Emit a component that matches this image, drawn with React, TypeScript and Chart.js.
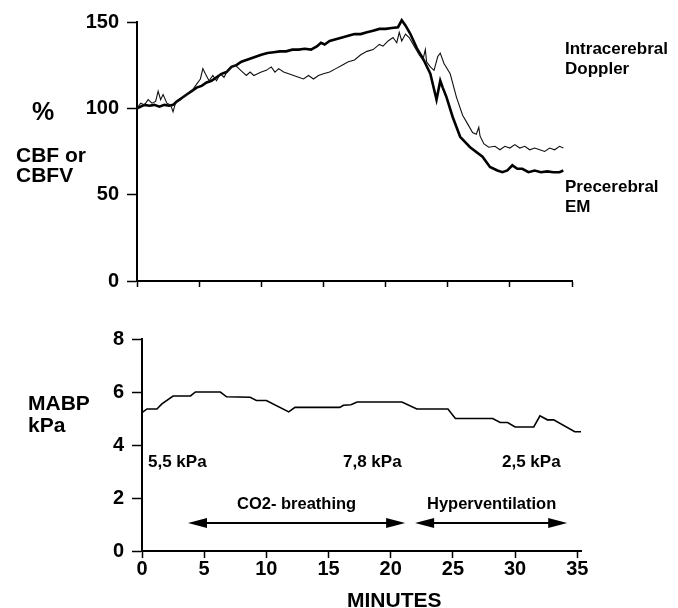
import React, { useEffect, useRef } from "react";
import { Chart, registerables } from "chart.js";

Chart.register(...registerables);

const FONT = "'Liberation Sans', Arial, Helvetica, sans-serif";

// ---- Data ----
// Precerebral EM (thick trace), % of baseline CBF
const emTime = [0, 0.3, 0.6, 1.0, 1.4, 1.8, 2.2, 2.6, 2.9, 3.2, 3.6, 4.0, 4.4, 4.8, 5.2, 5.6, 6.0, 6.4, 6.8, 7.2, 7.6, 8.0, 8.4, 8.8, 9.2, 9.6, 10.0, 10.5, 11.0, 11.5, 12.0, 12.5, 13.0, 13.5, 14.0, 14.5, 14.8, 15.1, 15.5, 16.0, 16.5, 17.0, 17.5, 18.0, 18.5, 19.0, 19.5, 20.0, 20.5, 21.0, 21.3, 21.6, 22.0, 22.5, 23.0, 23.6, 24.1, 24.4, 24.6, 24.9, 25.4, 26.0, 26.8, 27.8, 28.4, 29.0, 29.4, 29.8, 30.2, 30.6, 31.0, 31.5, 32.0, 32.5, 33.0, 33.5, 34.0, 34.3];
const emValue = [100, 101, 102, 101.5, 102, 101, 102, 101.5, 102, 104, 106, 108, 110, 112, 113, 115, 116, 118, 120, 121, 124, 125, 127, 128, 129, 130, 131, 132, 132.5, 133, 133, 134, 134, 134.5, 134, 136, 138, 137, 139, 140, 141, 142, 143, 143, 144, 145, 146, 146, 146.5, 147, 151, 148, 143, 135, 129, 120, 105, 116, 112, 106.5, 95, 83.5, 77.5, 72, 66, 64, 63, 64, 67, 65, 65, 63, 64, 63, 63.5, 63, 63, 64];

// Intracerebral Doppler (thin trace), % of baseline CBFV
const dopTime = [0, 0.3, 0.6, 0.9, 1.2, 1.5, 1.7, 1.9, 2.1, 2.4, 2.7, 2.9, 3.1, 3.5, 4.0, 4.5, 4.8, 5.1, 5.3, 5.5, 5.8, 6.1, 6.4, 6.7, 7.0, 7.3, 7.6, 7.9, 8.2, 8.5, 8.8, 9.1, 9.4, 9.7, 10.0, 10.4, 10.8, 11.1, 11.4, 11.8, 12.2, 12.6, 13.0, 13.4, 13.8, 14.2, 14.6, 15.0, 15.5, 16.0, 16.5, 17.0, 17.5, 18.0, 18.5, 19.0, 19.5, 19.8, 20.2, 20.6, 20.9, 21.1, 21.3, 21.6, 21.9, 22.3, 22.7, 23.0, 23.2, 23.3, 23.6, 23.9, 24.2, 24.4, 24.7, 25.2, 25.7, 26.2, 26.6, 27.0, 27.3, 27.5, 27.6, 27.9, 28.3, 28.8, 29.2, 29.6, 30.0, 30.4, 30.8, 31.2, 31.6, 32.0, 32.4, 32.8, 33.2, 33.6, 34.0, 34.3];
const dopValue = [100, 103, 102, 105, 103, 104, 110, 105, 108, 103, 102, 98, 103, 105, 108, 111, 114, 117, 123, 120, 116, 119, 116, 120, 118, 122, 124, 125, 123, 121, 119, 121, 119, 120, 121, 122, 124, 121, 123, 121, 120, 119, 118, 117, 119, 117, 119, 120, 121, 123, 125, 127, 128, 131, 133, 134, 137, 136, 139, 141, 138, 144, 139, 143, 141, 136, 131, 128, 134, 127, 124, 122, 130, 132, 126, 120, 106.5, 96, 91, 86, 85, 89, 84, 79.5, 77.5, 78, 76, 78, 77, 79, 77, 78, 76, 77, 76, 75, 77, 76, 78, 77];

// Mean arterial blood pressure, kPa
const mabpTime = [0, 0.4, 1.2, 1.6, 2.5, 3.9, 4.3, 6.3, 6.8, 8.7, 9.2, 10.0, 11.8, 12.3, 15.9, 16.2, 16.8, 17.3, 20.9, 22.1, 24.6, 25.2, 28.2, 28.8, 29.4, 30.0, 31.5, 32.0, 32.6, 33.1, 34.8, 35.3];
const mabpValue = [5.22, 5.36, 5.36, 5.55, 5.85, 5.85, 6.0, 6.0, 5.82, 5.8, 5.68, 5.68, 5.25, 5.42, 5.42, 5.5, 5.52, 5.62, 5.62, 5.36, 5.36, 5.0, 5.0, 4.85, 4.85, 4.68, 4.68, 5.1, 4.95, 4.95, 4.5, 4.5];

const cbfTicks = [0, 50, 100, 150];
const mabpTicks = [0, 2, 4, 6, 8];
const minuteTicks = [0, 5, 10, 15, 20, 25, 30, 35];

// Phase arrows (minutes, kPa level)
const phaseArrows = [
  { from: 3.7, to: 21.16, level: 1.06 },
  { from: 21.96, to: 34.19, level: 1.06 },
];

const toXY = (t: number[], v: number[]) => t.map((x, i) => ({ x, y: v[i] }));

const arrowPlugin = {
  id: "phaseArrows",
  afterDatasetsDraw(chart: any, _args: any, opts: any) {
    const arrows = opts && opts.arrows;
    if (!arrows) return;
    const { ctx } = chart;
    const xs = chart.scales.x;
    const ys = chart.scales.y;
    ctx.save();
    ctx.strokeStyle = "#000";
    ctx.fillStyle = "#000";
    ctx.lineWidth = 2;
    const hl = 19;
    const hw = 5;
    for (const a of arrows) {
      const x1 = xs.getPixelForValue(a.from);
      const x2 = xs.getPixelForValue(a.to);
      const yy = ys.getPixelForValue(a.level);
      ctx.beginPath();
      ctx.moveTo(x1 + hl - 2, yy);
      ctx.lineTo(x2 - hl + 2, yy);
      ctx.stroke();
      ctx.beginPath();
      ctx.moveTo(x1, yy);
      ctx.lineTo(x1 + hl, yy - hw);
      ctx.lineTo(x1 + hl, yy + hw);
      ctx.closePath();
      ctx.fill();
      ctx.beginPath();
      ctx.moveTo(x2, yy);
      ctx.lineTo(x2 - hl, yy - hw);
      ctx.lineTo(x2 - hl, yy + hw);
      ctx.closePath();
      ctx.fill();
    }
    ctx.restore();
  },
};

const tickFont = { family: FONT, size: 20, weight: "bold" as const, lineHeight: 1 };

function TopChart() {
  const ref = useRef<HTMLCanvasElement>(null);
  useEffect(() => {
    if (!ref.current) return;
    const chart = new Chart(ref.current, {
      type: "line",
      data: {
        datasets: [
          {
            label: "Intracerebral Doppler",
            data: toXY(dopTime, dopValue),
            borderColor: "#111",
            borderWidth: 1.1,
            pointRadius: 0,
            tension: 0,
            clip: false as any,
          },
          {
            label: "Precerebral EM",
            data: toXY(emTime, emValue),
            borderColor: "#000",
            borderWidth: 2.6,
            pointRadius: 0,
            tension: 0,
            clip: false as any,
          },
        ],
      },
      options: {
        responsive: false,
        animation: false,
        layout: { padding: { left: 0, right: 106, top: 22, bottom: 0 } },
        plugins: { legend: { display: false }, tooltip: { enabled: false } },
        scales: {
          x: {
            type: "linear",
            min: 0,
            max: 35,
            afterBuildTicks: (s: any) => {
              s.ticks = minuteTicks.map((v) => ({ value: v }));
            },
            afterFit: (s: any) => {
              s.height = 19;
            },
            ticks: { callback: () => "", font: tickFont },
            grid: { drawOnChartArea: false, tickLength: 6, tickColor: "#000", tickWidth: 1.5 },
            border: { color: "#000", width: 2 },
          },
          y: {
            min: 0,
            max: 150,
            afterBuildTicks: (s: any) => {
              s.ticks = cbfTicks.map((v) => ({ value: v }));
            },
            afterFit: (s: any) => {
              s.width = 137;
            },
            ticks: { color: "#000", font: tickFont, padding: 8 },
            grid: { drawOnChartArea: false, tickLength: 10, tickColor: "#000", tickWidth: 1.5 },
            border: { color: "#000", width: 2 },
          },
        },
      },
    });
    return () => chart.destroy();
  }, []);
  return (
    <canvas
      ref={ref}
      width={678}
      height={300}
      style={{ position: "absolute", left: 0, top: 0, width: 678, height: 300 }}
    />
  );
}

function BottomChart() {
  const ref = useRef<HTMLCanvasElement>(null);
  useEffect(() => {
    if (!ref.current) return;
    const chart = new Chart(ref.current, {
      type: "line",
      data: {
        datasets: [
          {
            label: "MABP",
            data: toXY(mabpTime, mabpValue),
            borderColor: "#000",
            borderWidth: 1.6,
            pointRadius: 0,
            tension: 0,
            clip: false as any,
          },
        ],
      },
      plugins: [arrowPlugin],
      options: {
        responsive: false,
        animation: false,
        layout: { padding: { left: 0, right: 97, top: 39, bottom: 0 } },
        plugins: {
          legend: { display: false },
          tooltip: { enabled: false },
          phaseArrows: { arrows: phaseArrows },
        } as any,
        scales: {
          x: {
            type: "linear",
            min: 0,
            max: 35.3,
            afterBuildTicks: (s: any) => {
              s.ticks = minuteTicks.map((v) => ({ value: v }));
            },
            afterFit: (s: any) => {
              s.height = 57;
            },
            ticks: { color: "#000", font: tickFont, padding: 1, maxRotation: 0 },
            grid: { drawOnChartArea: false, tickLength: 7, tickColor: "#000", tickWidth: 1.5 },
            border: { color: "#000", width: 2 },
          },
          y: {
            min: 0,
            max: 8,
            afterBuildTicks: (s: any) => {
              s.ticks = mabpTicks.map((v) => ({ value: v }));
            },
            afterFit: (s: any) => {
              s.width = 142;
            },
            ticks: { color: "#000", font: tickFont, padding: 8 },
            grid: { drawOnChartArea: false, tickLength: 10, tickColor: "#000", tickWidth: 1.5 },
            border: { color: "#000", width: 2 },
          },
        },
      },
    });
    return () => chart.destroy();
  }, []);
  return (
    <canvas
      ref={ref}
      width={678}
      height={308}
      style={{ position: "absolute", left: 0, top: 300, width: 678, height: 308 }}
    />
  );
}

function Label(props: { x: number; y: number; size: number; bold?: boolean; text: string }) {
  return (
    <div
      style={{
        position: "absolute",
        left: props.x,
        top: props.y,
        fontFamily: FONT,
        fontSize: props.size,
        fontWeight: props.bold === false ? "normal" : "bold",
        lineHeight: 1,
        whiteSpace: "nowrap",
        color: "#000",
      }}
    >
      {props.text}
    </div>
  );
}

export default function App() {
  return (
    <div
      style={{
        position: "absolute",
        left: 0,
        top: 0,
        width: 678,
        height: 608,
        background: "#fff",
        overflow: "hidden",
      }}
    >
      <TopChart />
      <BottomChart />
      <Label x={32} y={99} size={25} text="%" />
      <Label x={16} y={144} size={21} text="CBF or" />
      <Label x={16} y={164} size={21} text="CBFV" />
      <Label x={565} y={40} size={17} text="Intracerebral" />
      <Label x={565} y={60} size={17} text="Doppler" />
      <Label x={565} y={178} size={17} text="Precerebral" />
      <Label x={565} y={198} size={17} text="EM" />
      <Label x={28} y={392} size={21} text="MABP" />
      <Label x={28} y={414} size={21} text="kPa" />
      <Label x={148} y={453} size={17} text="5,5 kPa" />
      <Label x={343} y={453} size={17} text="7,8 kPa" />
      <Label x={502} y={453} size={17} text="2,5 kPa" />
      <Label x={237} y={495} size={16.5} text="CO2- breathing" />
      <Label x={427} y={495} size={16.5} text="Hyperventilation" />
      <Label x={347} y={589} size={21} text="MINUTES" />
    </div>
  );
}
